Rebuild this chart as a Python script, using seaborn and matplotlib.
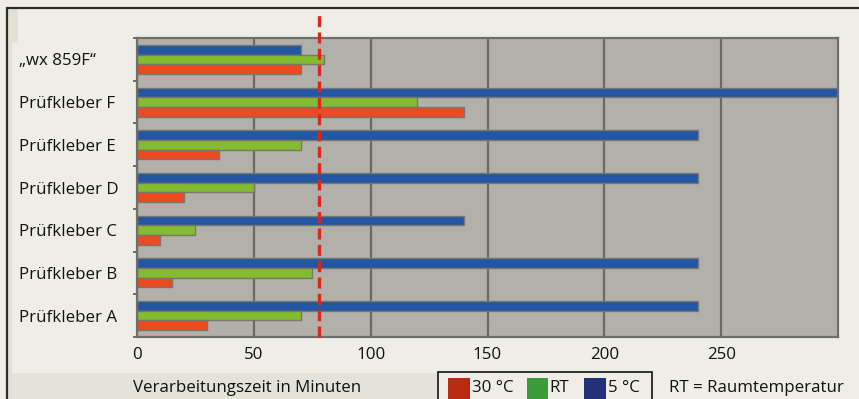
import matplotlib
matplotlib.use("Agg")
import matplotlib.pyplot as plt
from matplotlib.patches import Rectangle
from matplotlib.lines import Line2D
import seaborn as sns
import pandas as pd

# Data: pot life (processing time) in minutes per adhesive and temperature
categories = ["\u201ewx 859F\u201c", "Prüfkleber F", "Prüfkleber E", "Prüfkleber D",
              "Prüfkleber C", "Prüfkleber B", "Prüfkleber A"]
conditions = ["5 °C", "RT", "30 °C"]
values_5c = [70, 300, 240, 240, 140, 240, 240]
values_rt = [80, 120, 70, 50, 25, 75, 70]
values_30c = [70, 140, 35, 20, 10, 15, 30]
reference_line = 78
x_ticks = [0, 50, 100, 150, 200, 250]

bar_colors = {"5 °C": "#2356a3", "RT": "#84bb2f", "30 °C": "#ec4a1f"}
legend_colors = {"30 °C": "#b92b10", "RT": "#3b9b36", "5 °C": "#23317b"}

rows = []
for cond, vals in zip(conditions, [values_5c, values_rt, values_30c]):
    for cat, v in zip(categories, vals):
        rows.append({"Kleber": cat, "Bedingung": cond, "Minuten": v})
df = pd.DataFrame(rows)

sns.set_theme(style="white")
plt.rcParams["font.family"] = ["Open Sans", "DejaVu Sans"]
FS = 12.2

W, H = 859, 399
fig = plt.figure(figsize=(W / 100, H / 100), dpi=100)
fig.patch.set_facecolor("#efeee6")

def fx(px):
    return px / W

def fy(py):
    return 1 - py / H

# Frame and background bands
fig.add_artist(Rectangle((fx(8), fy(399)), fx(3.5), fy(8) - fy(399), transform=fig.transFigure,
                         facecolor="#e2e1d6", edgecolor="none", zorder=0))
fig.add_artist(Rectangle((fx(8), fy(43)), fx(10), fy(8) - fy(43), transform=fig.transFigure,
                         facecolor="#e2e1d6", edgecolor="none", zorder=0))
fig.add_artist(Rectangle((fx(11.5), fy(399)), fx(426), fy(373) - fy(399), transform=fig.transFigure,
                         facecolor="#e4e3d9", edgecolor="none", zorder=0))
fig.add_artist(Line2D([fx(7), 1], [fy(8), fy(8)], transform=fig.transFigure,
                      color="#2b2b2b", lw=1.6, zorder=1))
fig.add_artist(Line2D([fx(7), fx(7)], [fy(8), 0], transform=fig.transFigure,
                      color="#2b2b2b", lw=1.6, zorder=1))

ax = fig.add_axes([fx(137), fy(337), fx(838) - fx(137), fy(38) - fy(337)])
ax.set_facecolor("#b1b1aa")

sns.barplot(data=df, x="Minuten", y="Kleber", hue="Bedingung", hue_order=conditions,
            order=categories, palette=bar_colors, orient="h", width=0.68,
            edgecolor="#77776f", linewidth=1.0, saturation=1, ax=ax, legend=False)

ax.set_xlim(0, 300)
ax.set_ylim(len(categories) - 0.5, -0.5)
ax.set_axisbelow(True)
ax.set_xticks(x_ticks)
ax.xaxis.grid(True, color="#696965", lw=1.6)
ax.yaxis.grid(False)
ax.set_xlabel("")
ax.set_ylabel("")
for s in ax.spines.values():
    s.set_color("#6e6e6a")
    s.set_linewidth(1.6)

ax.tick_params(axis="x", length=0, pad=7, labelsize=FS, labelcolor="#111111")
ax.tick_params(axis="y", which="major", length=0, pad=85, labelsize=FS, labelcolor="#111111")
for lab in ax.get_yticklabels():
    lab.set_horizontalalignment("left")
ax.set_yticks([i + 0.5 for i in range(-1, len(categories))], minor=True)
ax.tick_params(axis="y", which="minor", length=3, width=1.2, color="#555555", left=True)

# Dashed reference line reaching above the plot area
ax.axvline(reference_line, ymin=0, ymax=(337 - 12) / (337 - 38), color="#d8281e",
           lw=2.4, ls=(0, (3.3, 1.6)), clip_on=False, zorder=5)

# Axis title in the bottom band
fig.text(fx(133), fy(388), "Verarbeitungszeit in Minuten", ha="left", va="center",
         fontsize=FS, color="#111111")

# Legend box
fig.add_artist(Rectangle((fx(438), fy(400)), fx(652) - fx(438), fy(372) - fy(400),
                         transform=fig.transFigure, facecolor="#efeee6",
                         edgecolor="#111111", lw=1.2, zorder=2))
legend_items = [("30 °C", 448, 470), ("RT", 527, 548), ("5 °C", 584, 606)]
for name, x0, x1 in legend_items:
    fig.add_artist(Rectangle((fx(x0), fy(399)), fx(x1 - x0), fy(378) - fy(399),
                             transform=fig.transFigure, facecolor=legend_colors[name],
                             edgecolor="none", zorder=3))
    fig.text(fx(x1 + 1.5), fy(388), name, ha="left", va="center", fontsize=FS,
             color="#111111", zorder=4)

fig.text(fx(669), fy(388), "RT = Raumtemperatur", ha="left", va="center",
         fontsize=FS, color="#111111")

fig.savefig("out.png", dpi=100, facecolor=fig.get_facecolor())
